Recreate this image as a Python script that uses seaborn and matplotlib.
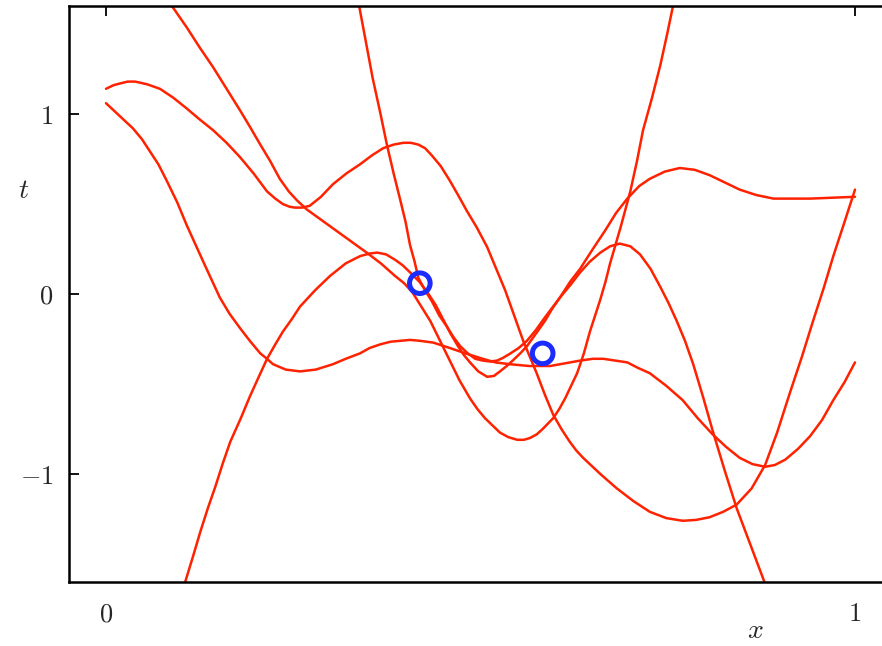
import numpy as np
import pandas as pd
import matplotlib
matplotlib.use("Agg")
import matplotlib.pyplot as plt
import seaborn as sns

# ── DATA ─────────────────────────────────────────────────────────────────────
# observed points
obs_x = [0.419, 0.583]
obs_t = [0.06, -0.33]

# sampled curves y(x, w) drawn from the posterior
curve_a_x = [0.0, 0.01, 0.019, 0.029, 0.039, 0.055, 0.072, 0.09, 0.108, 0.125, 0.143,
             0.161, 0.179, 0.197, 0.215, 0.226, 0.236, 0.245, 0.252, 0.262, 0.272, 0.287,
             0.303, 0.321, 0.339, 0.355, 0.370, 0.384, 0.397, 0.407, 0.417, 0.426, 0.435,
             0.447, 0.459, 0.470, 0.482, 0.495, 0.509, 0.521, 0.533, 0.545, 0.557, 0.566,
             0.575, 0.586, 0.597, 0.608, 0.619, 0.628, 0.637, 0.660, 0.682, 0.704, 0.726,
             0.748, 0.770, 0.788, 0.806, 0.824, 0.842, 0.862, 0.880, 0.896, 0.913, 0.929,
             0.944, 0.958, 0.971, 0.986, 1.0]
curve_a_t = [1.14, 1.16, 1.17, 1.18, 1.18, 1.165, 1.14, 1.09, 1.03, 0.97, 0.91,
             0.84, 0.76, 0.67, 0.57, 0.53, 0.50, 0.485, 0.48, 0.48, 0.49, 0.54,
             0.61, 0.67, 0.72, 0.77, 0.81, 0.83, 0.84, 0.84, 0.83, 0.81, 0.77,
             0.71, 0.63, 0.55, 0.46, 0.37, 0.26, 0.14, 0.02, -0.12, -0.26, -0.35,
             -0.44, -0.56, -0.67, -0.75, -0.82, -0.87, -0.91, -1.00, -1.08, -1.15, -1.21,
             -1.245, -1.26, -1.255, -1.24, -1.21, -1.17, -1.08, -0.95, -0.77, -0.55, -0.35,
             -0.15, 0.03, 0.21, 0.40, 0.58]

curve_b_x = [0.072, 0.088, 0.108, 0.125, 0.143, 0.161, 0.179, 0.192, 0.206, 0.219, 0.232,
             0.244, 0.255, 0.268, 0.288, 0.308, 0.328, 0.348, 0.367, 0.386, 0.398, 0.409,
             0.421, 0.433, 0.446, 0.459, 0.472, 0.486, 0.496, 0.506, 0.516, 0.526, 0.537,
             0.549, 0.558, 0.566, 0.575, 0.583, 0.590, 0.597, 0.605, 0.613, 0.621, 0.629,
             0.638, 0.646, 0.653, 0.660, 0.667, 0.673, 0.687, 0.700, 0.709, 0.717, 0.729,
             0.740, 0.749, 0.757, 0.764]
curve_b_t = [1.70, 1.60, 1.48, 1.37, 1.26, 1.14, 1.02, 0.93, 0.83, 0.74, 0.64,
             0.57, 0.52, 0.47, 0.41, 0.35, 0.29, 0.23, 0.17, 0.10, 0.06, 0.01,
             -0.07, -0.15, -0.26, -0.37, -0.48, -0.58, -0.64, -0.69, -0.73, -0.77, -0.795,
             -0.81, -0.81, -0.80, -0.78, -0.75, -0.72, -0.69, -0.64, -0.58, -0.51, -0.44,
             -0.33, -0.21, -0.12, -0.03, 0.07, 0.17, 0.37, 0.57, 0.74, 0.91, 1.09,
             1.27, 1.44, 1.60, 1.71]

curve_c_x = [0.099, 0.105, 0.116, 0.126, 0.136, 0.146, 0.156, 0.166, 0.180, 0.192, 0.204,
             0.215, 0.226, 0.236, 0.248, 0.259, 0.279, 0.299, 0.320, 0.339, 0.352, 0.362,
             0.374, 0.386, 0.396, 0.406, 0.418, 0.429, 0.440, 0.450, 0.460, 0.470, 0.478,
             0.486, 0.497, 0.509, 0.518, 0.526, 0.535, 0.543, 0.553, 0.562, 0.574, 0.586,
             0.596, 0.606, 0.620, 0.633, 0.650, 0.666, 0.681, 0.696, 0.712, 0.726, 0.746,
             0.766, 0.786, 0.806, 0.826, 0.846, 0.868, 0.891, 0.940, 1.0]
curve_c_t = [-1.71, -1.61, -1.46, -1.32, -1.19, -1.07, -0.94, -0.82, -0.69, -0.57, -0.46,
             -0.36, -0.28, -0.21, -0.14, -0.07, 0.02, 0.10, 0.17, 0.21, 0.225, 0.23,
             0.22, 0.19, 0.16, 0.12, 0.07, 0.01, -0.06, -0.14, -0.22, -0.29, -0.34,
             -0.38, -0.43, -0.46, -0.455, -0.43, -0.40, -0.37, -0.33, -0.29, -0.22, -0.15,
             -0.08, -0.02, 0.07, 0.14, 0.25, 0.35, 0.45, 0.53, 0.60, 0.64, 0.68,
             0.70, 0.69, 0.66, 0.62, 0.58, 0.55, 0.53, 0.53, 0.54]

curve_d_x = [0.0, 0.018, 0.036, 0.048, 0.059, 0.070, 0.081, 0.095, 0.108, 0.120, 0.132,
             0.142, 0.152, 0.165, 0.179, 0.192, 0.206, 0.215, 0.223, 0.240, 0.259, 0.280,
             0.303, 0.320, 0.339, 0.352, 0.366, 0.380, 0.393, 0.406, 0.419, 0.437, 0.459,
             0.480, 0.503, 0.520, 0.539, 0.565, 0.593, 0.613, 0.633, 0.650, 0.664, 0.680,
             0.696, 0.710, 0.726, 0.748, 0.770, 0.790, 0.810, 0.828, 0.846, 0.863, 0.880,
             0.893, 0.907, 0.924, 0.940, 0.956, 0.971, 0.986, 1.0]
curve_d_t = [1.06, 0.99, 0.92, 0.86, 0.79, 0.72, 0.63, 0.51, 0.38, 0.27, 0.16,
             0.07, -0.02, -0.11, -0.19, -0.26, -0.33, -0.36, -0.39, -0.42, -0.43, -0.42,
             -0.39, -0.36, -0.33, -0.30, -0.28, -0.265, -0.26, -0.255, -0.26, -0.27, -0.30,
             -0.33, -0.36, -0.38, -0.39, -0.40, -0.40, -0.385, -0.37, -0.36, -0.36, -0.37,
             -0.38, -0.41, -0.44, -0.51, -0.59, -0.69, -0.78, -0.85, -0.91, -0.945, -0.96,
             -0.95, -0.92, -0.86, -0.79, -0.70, -0.59, -0.49, -0.38]

curve_s_x = [0.332, 0.338, 0.347, 0.356, 0.366, 0.375, 0.384, 0.393, 0.400, 0.406, 0.412,
             0.417, 0.426, 0.435, 0.445, 0.455, 0.464, 0.473, 0.483, 0.493, 0.503, 0.513,
             0.522, 0.530, 0.540, 0.551, 0.562, 0.574, 0.586, 0.606, 0.620, 0.633, 0.646,
             0.660, 0.673, 0.686, 0.700, 0.713, 0.727, 0.740, 0.751, 0.762, 0.773, 0.784,
             0.797, 0.810, 0.826, 0.842, 0.861, 0.880, 0.887]
curve_s_t = [1.71, 1.60, 1.40, 1.20, 1.01, 0.83, 0.67, 0.52, 0.40, 0.27, 0.18,
             0.09, 0.02, -0.04, -0.12, -0.18, -0.24, -0.29, -0.33, -0.36, -0.37, -0.375,
             -0.37, -0.355, -0.33, -0.30, -0.26, -0.20, -0.13, -0.02, 0.05, 0.12, 0.18,
             0.23, 0.265, 0.28, 0.265, 0.22, 0.14, 0.04, -0.05, -0.15, -0.26, -0.39,
             -0.57, -0.76, -0.98, -1.19, -1.40, -1.61, -1.71]

curves = {"a": (curve_a_x, curve_a_t), "b": (curve_b_x, curve_b_t),
          "c": (curve_c_x, curve_c_t), "d": (curve_d_x, curve_d_t),
          "s": (curve_s_x, curve_s_t)}

df = pd.concat([pd.DataFrame({"x": cx, "t": ct, "curve": name})
                for name, (cx, ct) in curves.items()], ignore_index=True)
obs = pd.DataFrame({"x": obs_x, "t": obs_t})

# ── STYLE ────────────────────────────────────────────────────────────────────
sns.set_style("white")
plt.rcParams["mathtext.fontset"] = "cm"
plt.rcParams["font.family"] = ["DejaVu Serif"]

fig = plt.figure(figsize=(8.82, 6.46), dpi=100)
# axes runs past the right edge of the figure, like the cropped original
ax = fig.add_axes([68.55 / 882, 64 / 646, 823.9 / 882, 576 / 646])

sns.lineplot(data=df, x="x", y="t", units="curve", estimator=None, sort=False,
             color="#ff2200", linewidth=1.8, ax=ax, legend=False)
sns.scatterplot(data=obs, x="x", y="t", marker="o", s=220, facecolor="none",
                edgecolor="#1a2cff", linewidth=3.6, ax=ax, zorder=5, legend=False)

ax.set_xlim(-0.05, 1.05)
ax.set_ylim(-1.6, 1.6)

ax.set_xticks([0, 1], labels=["$0$", "$1$"])
ax.set_yticks([-1, 0, 1], labels=["$-1$", "$0$", "$1$"])
ax.tick_params(axis="both", direction="in", length=7, width=1.3, labelsize=19,
               color="black")
ax.tick_params(axis="x", top=True, pad=14)
ax.tick_params(axis="y", left=True, pad=11)

ax.set_xlabel("")
ax.set_ylabel("")
ax.text(-0.055, 0.679, "$t$", transform=ax.transAxes, fontsize=20,
        ha="center", va="center")
ax.text(0.834, -0.084, "$x$", transform=ax.transAxes, fontsize=20,
        ha="center", va="center")

for side in ["left", "top", "bottom"]:
    ax.spines[side].set_color("black")
    ax.spines[side].set_linewidth(1.8)
ax.spines["right"].set_visible(False)

plt.savefig("out.png", dpi=100)
print("[✓] Saved: out.png")
